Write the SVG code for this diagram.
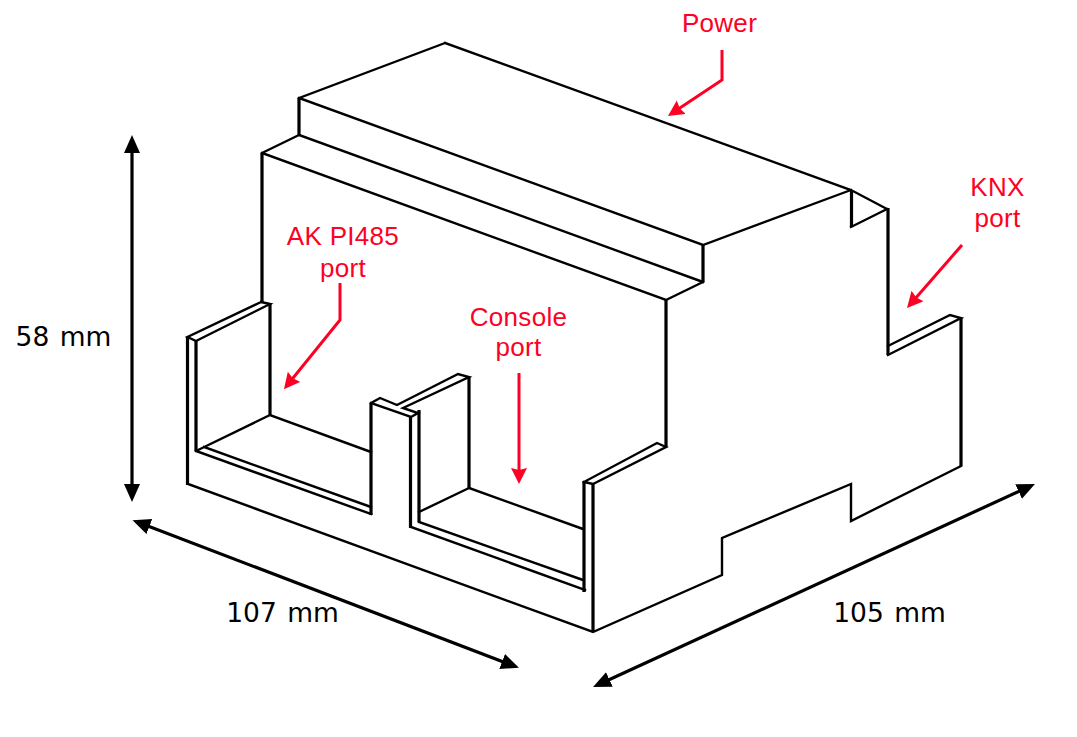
<svg xmlns="http://www.w3.org/2000/svg" width="1077" height="737" viewBox="0 0 1077 737">
<style>
.b{fill:none;stroke:#000;stroke-width:2.4;stroke-linejoin:miter;stroke-linecap:square}
.v{fill:none;stroke:#000;stroke-width:3.2}
.r{fill:none;stroke:#fe0024;stroke-width:3;stroke-linejoin:miter}
.k{fill:none;stroke:#000;stroke-width:3.2}
.t{font-family:"DejaVu Sans",Verdana,sans-serif;font-size:26.500px;fill:#000;text-anchor:middle;word-spacing:2px}
.l{font-family:"Liberation Sans",Arial,sans-serif;font-size:26px;letter-spacing:.3px;fill:#fe0024;text-anchor:middle}
</style>
<defs>
<marker id="rh" markerUnits="userSpaceOnUse" markerWidth="18" markerHeight="18" refX="8" refY="8" orient="auto"><path d="M0 0L16 8L0 16L2 8Z" fill="#fe0024"/></marker>
<marker id="kh" markerUnits="userSpaceOnUse" markerWidth="20" markerHeight="18" refX="10" refY="8" orient="auto-start-reverse"><path d="M0 0L18 8L0 16Z" fill="#000"/></marker>
</defs>
<g id="enclosure">
<path class="b" d="M445 43L851 190L887 209M299 98L445 43M299 98L703 245L851 190M299 135L703 282M262 153L299 135M262 153L666 300L703 282M851 227L887 209"/>
<path class="v" d="M299 98V135M262 153V302M703 245V282M851.500 190V227M888 208V355M666 300V447M961 318V466M593 484V632M584 481V592M270 304V415M187.500 337V485M196 341V451M371 403V515M410.500 416V528M419 410V522M469 377V488"/>
<path class="b" d="M888 355L961 318L950 315L888 346"/>
<path class="b" d="M261 302L187.500 337L196 341L270 304L261 302M196 451L270 415L371 452M204 447L371 507M196 451L371 514"/>
<path class="b" d="M371 403L380 398L397 405L458 374L469 377L403 408L418 413L411 417L371 403"/>
<path class="b" d="M469 488L419 512M469 488L583 529M419 522L583 580M411 527L585 590"/>
<path class="b" d="M584 482L657 443L666 447L593 484L584 482"/>
<path class="b" d="M188 484L593 632L722 575V538L851 484V521L961 466"/>
</g>
<g id="connectors">
<path class="r" d="M722 50V80L674.600 111.600" marker-end="url(#rh)"/>
<path class="r" d="M962 245L912.300 302" marker-end="url(#rh)"/>
<path class="r" d="M340 283V320L289 383" marker-end="url(#rh)"/>
<path class="r" d="M519 373V476" marker-end="url(#rh)"/>
<path class="k" d="M132 143V494" marker-start="url(#kh)" marker-end="url(#kh)"/>
<path class="k" d="M140 523L511.500 665" marker-start="url(#kh)" marker-end="url(#kh)"/>
<path class="k" d="M600.300 683.700L1027.700 487.300" marker-start="url(#kh)" marker-end="url(#kh)"/>
</g>
<g id="labels">
<text class="l" x="719.500" y="32">Power</text>
<text class="l" x="997.500" y="196">KNX</text>
<text class="l" x="997.500" y="227">port</text>
<text class="l" x="343" y="245">AK PI485</text>
<text class="l" x="343" y="277">port</text>
<text class="l" x="518.500" y="325.500">Console</text>
<text class="l" x="518.500" y="356">port</text>
<text class="t" x="63.500" y="346">58 mm</text>
<text class="t" x="282.500" y="622">107 mm</text>
<text class="t" x="889.500" y="622">105 mm</text>
</g>
</svg>
